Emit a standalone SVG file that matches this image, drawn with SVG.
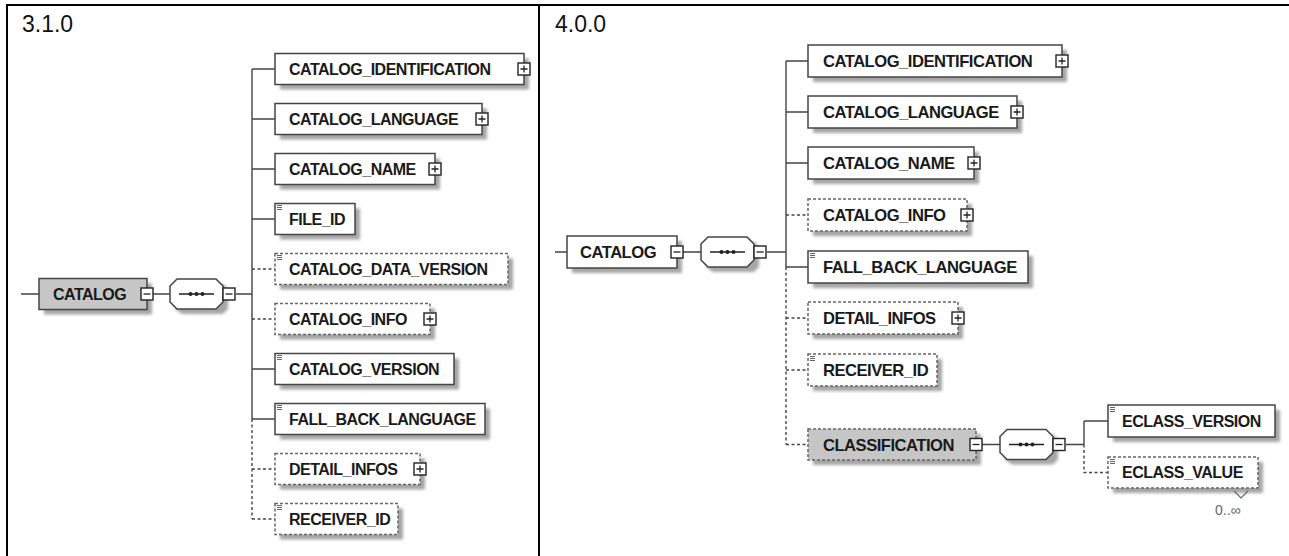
<svg xmlns="http://www.w3.org/2000/svg" xmlns:xlink="http://www.w3.org/1999/xlink" width="1289" height="556" viewBox="0 0 1289 556">
<style>
.frame{stroke:#000;stroke-width:2;fill:none}
.hdr{font-family:"Liberation Sans",Arial,sans-serif;font-size:23px;fill:#111}
.sh{fill:#a6a6a6;filter:url(#blur)}
.box{fill:#fff;stroke:#444;stroke-width:1.5}
.opt{stroke:#666;stroke-dasharray:3 2}
.gray{fill:#c6c6c6}
.t1{font-family:"Liberation Sans",Arial,sans-serif;font-weight:bold;font-size:16px;letter-spacing:-0.5px;fill:#1a1a1a}
.t2{font-family:"Liberation Sans",Arial,sans-serif;font-weight:bold;font-size:16.6px;letter-spacing:-0.5px;fill:#1a1a1a}
.t3{font-family:"Liberation Sans",Arial,sans-serif;font-weight:bold;font-size:16px;letter-spacing:-0.5px;fill:#1a1a1a}
.conn{stroke:#444;stroke-width:1.4;fill:none}
.dash{stroke-dasharray:3 2.5}
.btn{fill:#fff;stroke:#222;stroke-width:1.4}
.ic{stroke:#666;stroke-width:1}
.mult{font-family:"Liberation Sans",Arial,sans-serif;font-size:14px;fill:#666}
</style>
<defs>
<filter id="blur" x="-10%" y="-20%" width="130%" height="150%"><feGaussianBlur stdDeviation="1.4"/></filter>
<g id="plus"><rect class="btn" x="0" y="0" width="12" height="12"/><path d="M2.5 6H9.5M6 2.5V9.5" stroke="#222" stroke-width="1.3"/></g>
<g id="minus"><rect class="btn" x="0" y="0" width="12" height="12"/><path d="M2.5 6H9.5" stroke="#222" stroke-width="1.3"/></g>
<g id="st"><path class="ic" d="M0 0.5H5M0 2.5H5M0 4.5H5"/></g>
<g id="seq">
<path class="sh" d="M12 5H53L58 10V30L53 35H12L5 30V10Z"/>
<path d="M7 0H46L53 7V23L46 30H7L0 23V7Z" fill="#fff" stroke="#444" stroke-width="1.5"/>
<path d="M9 15H44" stroke="#222" stroke-width="1.3"/>
<circle cx="20.5" cy="15" r="2" fill="#222"/><circle cx="26.5" cy="15" r="2" fill="#222"/><circle cx="32.5" cy="15" r="2" fill="#222"/>
</g>
</defs>
<rect width="1289" height="556" fill="#fff"/>
<g id="frame">
<path class="frame" d="M6 5H1289M7 5V556M539 5V556"/>
<text class="hdr" x="22" y="32">3.1.0</text>
<text class="hdr" x="555" y="32">4.0.0</text>
</g>
<g id="connectors">
<path class="conn" d="M21 294H39M153 294H170M236 294H252M252 69V419M252 69H275M252 119H275M252 169H275M252 219H275M252 369H275M252 419H275"/>
<path class="conn dash" d="M252 419V519M252 269H275M252 319H275M252 469H275M252 519H275"/>
<path class="conn" d="M555 252H567M683 252H701M767 252H786M786 61V267M786 61H808M786 112H808M786 163H808M786 267H808M982 444.5H1000M1066 444.5H1084M1084 421V444.5M1084 421H1108"/>
<path class="conn dash" d="M786 267V444.5M786 215H808M786 318H808M786 370H808M786 444.5H808M1084 444.5V472.5H1108"/>
</g>
<g id="v31-catalog">
<rect class="sh" x="44" y="283.5" width="108" height="31"/>
<rect class="box gray" x="39" y="278.5" width="108" height="31"/>
<text class="t1" x="53" y="299.7">CATALOG</text>
<use href="#minus" x="141" y="288"/>
</g>
<g id="v31-sequence"><use href="#seq" x="170" y="279"/><use href="#minus" x="223" y="288"/></g>
<g id="v31-catalog-identification">
<rect class="sh" x="280" y="58.5" width="249" height="31"/>
<rect class="box" x="275" y="53.5" width="249" height="31"/>
<text class="t1" x="289" y="74.7">CATALOG_IDENTIFICATION</text>
<use href="#plus" x="518" y="63"/>
</g>
<g id="v31-catalog-language">
<rect class="sh" x="280" y="108.5" width="207" height="31"/>
<rect class="box" x="275" y="103.5" width="207" height="31"/>
<text class="t1" x="289" y="124.7">CATALOG_LANGUAGE</text>
<use href="#plus" x="476" y="113"/>
</g>
<g id="v31-catalog-name">
<rect class="sh" x="280" y="158.5" width="160" height="31"/>
<rect class="box" x="275" y="153.5" width="160" height="31"/>
<text class="t1" x="289" y="174.7">CATALOG_NAME</text>
<use href="#plus" x="429" y="163"/>
</g>
<g id="v31-file-id">
<rect class="sh" x="280" y="208.5" width="80" height="31"/>
<rect class="box" x="275" y="203.5" width="80" height="31"/>
<use href="#st" x="277" y="205"/>
<text class="t1" x="289" y="224.7">FILE_ID</text>
</g>
<g id="v31-catalog-data-version">
<rect class="sh" x="280" y="258.5" width="233" height="31"/>
<rect class="box opt" x="275" y="253.5" width="233" height="31"/>
<use href="#st" x="277" y="255"/>
<text class="t1" x="289" y="274.7">CATALOG_DATA_VERSION</text>
</g>
<g id="v31-catalog-info">
<rect class="sh" x="280" y="308.5" width="155" height="31"/>
<rect class="box opt" x="275" y="303.5" width="155" height="31"/>
<text class="t1" x="289" y="324.7">CATALOG_INFO</text>
<use href="#plus" x="424" y="313"/>
</g>
<g id="v31-catalog-version">
<rect class="sh" x="280" y="358.5" width="179" height="31"/>
<rect class="box" x="275" y="353.5" width="179" height="31"/>
<use href="#st" x="277" y="355"/>
<text class="t1" x="289" y="374.7">CATALOG_VERSION</text>
</g>
<g id="v31-fall-back-language">
<rect class="sh" x="280" y="408.5" width="210" height="31"/>
<rect class="box" x="275" y="403.5" width="210" height="31"/>
<use href="#st" x="277" y="405"/>
<text class="t1" x="289" y="424.7">FALL_BACK_LANGUAGE</text>
</g>
<g id="v31-detail-infos">
<rect class="sh" x="280" y="458.5" width="145" height="31"/>
<rect class="box opt" x="275" y="453.5" width="145" height="31"/>
<text class="t1" x="289" y="474.7">DETAIL_INFOS</text>
<use href="#plus" x="414" y="463"/>
</g>
<g id="v31-receiver-id">
<rect class="sh" x="280" y="508.5" width="123" height="31"/>
<rect class="box opt" x="275" y="503.5" width="123" height="31"/>
<use href="#st" x="277" y="505"/>
<text class="t1" x="289" y="524.7">RECEIVER_ID</text>
</g>
<g id="v40-catalog">
<rect class="sh" x="572" y="241" width="110" height="32"/>
<rect class="box" x="567" y="236" width="110" height="32"/>
<text class="t2" x="580" y="258">CATALOG</text>
<use href="#minus" x="671" y="246"/>
</g>
<g id="v40-sequence"><use href="#seq" x="701" y="237"/><use href="#minus" x="754" y="246"/></g>
<g id="v40-catalog-identification">
<rect class="sh" x="813" y="50" width="254" height="32"/>
<rect class="box" x="808" y="45" width="254" height="32"/>
<text class="t2" x="823" y="67">CATALOG_IDENTIFICATION</text>
<use href="#plus" x="1056" y="55"/>
</g>
<g id="v40-catalog-language">
<rect class="sh" x="813" y="101" width="209" height="32"/>
<rect class="box" x="808" y="96" width="209" height="32"/>
<text class="t2" x="823" y="118">CATALOG_LANGUAGE</text>
<use href="#plus" x="1011" y="106"/>
</g>
<g id="v40-catalog-name">
<rect class="sh" x="813" y="152" width="166" height="32"/>
<rect class="box" x="808" y="147" width="166" height="32"/>
<text class="t2" x="823" y="169">CATALOG_NAME</text>
<use href="#plus" x="968" y="157"/>
</g>
<g id="v40-catalog-info">
<rect class="sh" x="813" y="204" width="159" height="32"/>
<rect class="box opt" x="808" y="199" width="159" height="32"/>
<text class="t2" x="823" y="221">CATALOG_INFO</text>
<use href="#plus" x="961" y="209"/>
</g>
<g id="v40-fall-back-language">
<rect class="sh" x="813" y="256" width="220" height="32"/>
<rect class="box" x="808" y="251" width="220" height="32"/>
<use href="#st" x="810" y="253"/>
<text class="t2" x="823" y="273">FALL_BACK_LANGUAGE</text>
</g>
<g id="v40-detail-infos">
<rect class="sh" x="813" y="307" width="150" height="32"/>
<rect class="box opt" x="808" y="302" width="150" height="32"/>
<text class="t2" x="823" y="324">DETAIL_INFOS</text>
<use href="#plus" x="952" y="312"/>
</g>
<g id="v40-receiver-id">
<rect class="sh" x="813" y="359" width="129" height="32"/>
<rect class="box opt" x="808" y="354" width="129" height="32"/>
<use href="#st" x="810" y="356"/>
<text class="t2" x="823" y="376">RECEIVER_ID</text>
</g>
<g id="v40-classification">
<rect class="sh" x="813" y="434" width="168" height="31"/>
<rect class="box opt gray" x="808" y="429" width="168" height="31"/>
<text class="t2" x="823" y="450.5">CLASSIFICATION</text>
<use href="#minus" x="970" y="438.5"/>
</g>
<g id="v40-classification-sequence"><use href="#seq" x="1000" y="429.5"/><use href="#minus" x="1053" y="438.5"/></g>
<g id="v40-eclass-version">
<rect class="sh" x="1113" y="410" width="167" height="32"/>
<rect class="box" x="1108" y="405" width="167" height="32"/>
<use href="#st" x="1110" y="407"/>
<text class="t3" x="1122" y="426.7">ECLASS_VERSION</text>
</g>
<g id="v40-eclass-value">
<rect class="sh" x="1113" y="462" width="150" height="31"/>
<rect class="box opt" x="1108" y="457" width="150" height="31"/>
<use href="#st" x="1110" y="459"/>
<text class="t3" x="1122" y="478.2">ECLASS_VALUE</text>
<path d="M1234 491L1241 498L1248 491" fill="none" stroke="#666" stroke-width="1.2"/>
<text class="mult" x="1215" y="515">0..∞</text>
</g>
</svg>
